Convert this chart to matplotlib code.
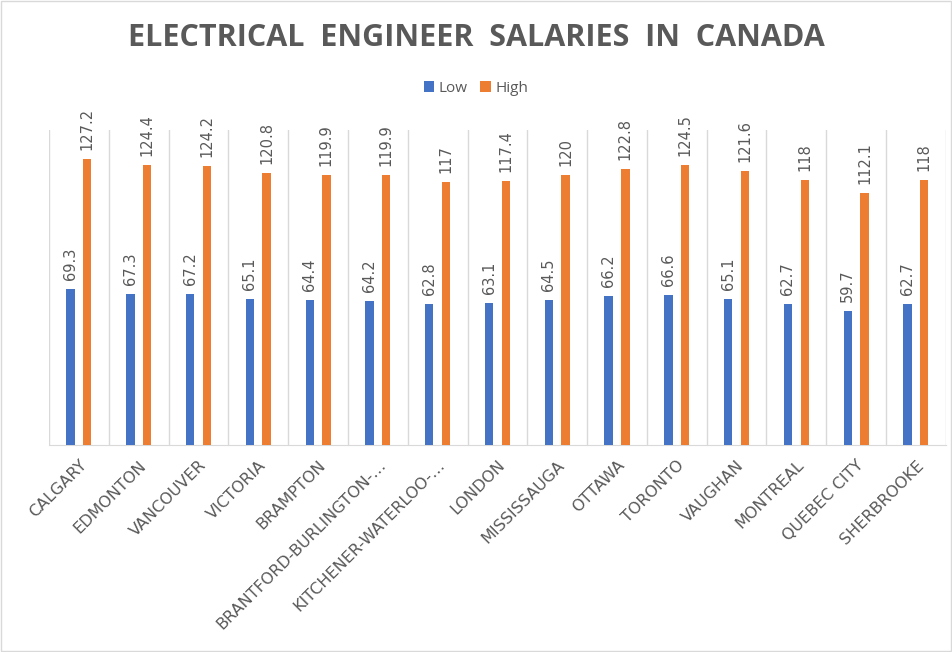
import matplotlib.pyplot as plt
import numpy as np

# data
cities = ['CALGARY', 'EDMONTON', 'VANCOUVER', 'VICTORIA', 'BRAMPTON',
          'BRANTFORD-BURLINGTON-…', 'KITCHENER-WATERLOO-…', 'LONDON',
          'MISSISSAUGA', 'OTTAWA', 'TORONTO', 'VAUGHAN', 'MONTREAL',
          'QUEBEC CITY', 'SHERBROOKE']
low = [69.3, 67.3, 67.2, 65.1, 64.4, 64.2, 62.8, 63.1, 64.5, 66.2, 66.6, 65.1, 62.7, 59.7, 62.7]
high = [127.2, 124.4, 124.2, 120.8, 119.9, 119.9, 117, 117.4, 120, 122.8, 124.5, 121.6, 118, 112.1, 118]
low_labels = ['69.3', '67.3', '67.2', '65.1', '64.4', '64.2', '62.8', '63.1', '64.5', '66.2', '66.6', '65.1', '62.7', '59.7', '62.7']
high_labels = ['127.2', '124.4', '124.2', '120.8', '119.9', '119.9', '117', '117.4', '120', '122.8', '124.5', '121.6', '118', '112.1', '118']

blue = '#4472C4'
orange = '#ED7D31'
grey = '#595959'
plt.rcParams['font.family'] = ['Open Sans', 'DejaVu Sans']

fig = plt.figure(figsize=(9.52, 6.52), dpi=100)
ax = fig.add_axes([0.0515, 0.3175, 0.942, 0.4831])

x = np.arange(len(cities))
w = 0.14
off = 0.14
ax.bar(x - off, low, w, color=blue, label='Low', zorder=3)
ax.bar(x + off, high, w, color=orange, label='High', zorder=3)

for i in range(len(cities)):
    ax.text(x[i] - off, low[i] + 4, low_labels[i], rotation=90, ha='center', va='bottom',
            fontsize=10.5, color=grey, family='DejaVu Sans')
    ax.text(x[i] + off, high[i] + 4, high_labels[i], rotation=90, ha='center', va='bottom',
            fontsize=10.5, color=grey, family='DejaVu Sans')

ax.set_xlim(-0.5, len(cities) - 0.5)
ax.set_ylim(0, 140)
ax.set_yticks([])
ax.set_xticks(x)
ax.set_xticklabels(cities, rotation=45, ha='right', rotation_mode='anchor',
                   fontsize=11.5, color=grey, family='DejaVu Sans')
ax.tick_params(axis='x', length=0, pad=9)
for b in np.arange(-0.5, len(cities), 1):
    ax.axvline(b, color='#D9D9D9', lw=1, zorder=1)
for s in ['top', 'right', 'left']:
    ax.spines[s].set_visible(False)
ax.spines['bottom'].set_color('#D9D9D9')

fig.text(0.5, 0.942, 'ELECTRICAL  ENGINEER  SALARIES  IN  CANADA', ha='center', va='center',
         fontsize=22, fontweight='bold', color=grey)
fig.legend(loc='center', bbox_to_anchor=(0.5, 0.864), ncol=2, frameon=False,
           fontsize=11, handlelength=0.7, handleheight=0.7, handletextpad=0.3,
           columnspacing=0.8, labelcolor=grey)

# outer frame like the chart area border
fig.patches.append(plt.Rectangle((0.001, 0.001), 0.998, 0.998, transform=fig.transFigure,
                                 fill=False, edgecolor='#D9D9D9', lw=1))

fig.savefig('out.png', dpi=100)
